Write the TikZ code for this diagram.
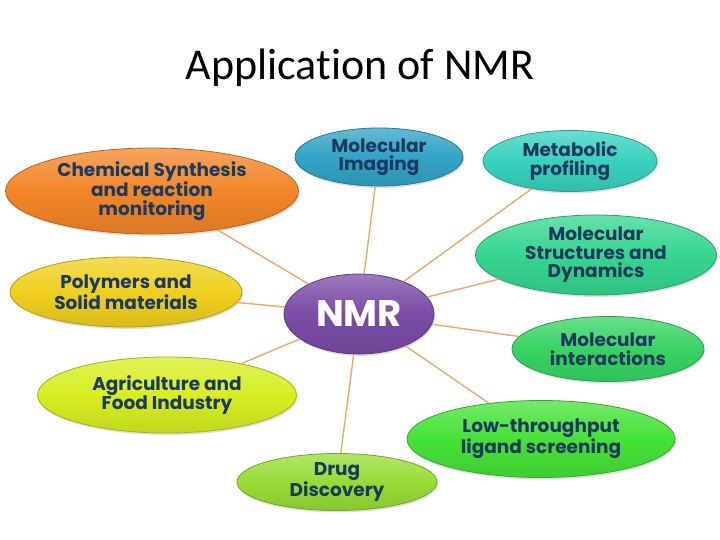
\documentclass[tikz,border=0pt]{standalone}
\usepackage{fontspec}
\setmainfont{Poppins}
\newfontfamily\titlefont[Ligatures=CommonOff]{Carlito}
\usetikzlibrary{shapes.geometric,shadows}
\definecolor{txt}{HTML}{1B3A5E}
\definecolor{conn}{HTML}{E9A96A}
\definecolor{cchem}{HTML}{F2862A}
\definecolor{cimg}{HTML}{33A3C6}
\definecolor{cmeta}{HTML}{38D2BE}
\definecolor{cstruct}{HTML}{36D690}
\definecolor{cpoly}{HTML}{F0D01E}
\definecolor{cnmr}{HTML}{7A4CA6}
\definecolor{cinter}{HTML}{38D464}
\definecolor{cagri}{HTML}{D8EE22}
\definecolor{clow}{HTML}{46E238}
\definecolor{cdrug}{HTML}{98DC36}
\tikzset{
  bub/.style={ellipse, inner sep=0pt, align=center, text=txt,
    font=\fontsize{18.5}{18.5}\selectfont\bfseries,
    top color=#1!75!white, bottom color=#1!90!black, middle color=#1,
    draw=#1!75!black, line width=0.8pt,
    drop shadow={opacity=0.25, shadow xshift=1pt, shadow yshift=-2pt}},
  link/.style={draw=conn, line width=1.4pt}
}
\begin{document}
\begin{tikzpicture}[x=1pt,y=-1pt]
\useasboundingbox (0,0) rectangle (720,540);
\node[font=\titlefont\fontsize{44}{46}\selectfont] (title) at (360,68) {Application of NMR};
\node[bub=cnmr, minimum width=150, minimum height=80, text=white,
  font=\fontsize{37}{38}\selectfont\bfseries] (nmr) at (359,314) {NMR};
\node[bub=cchem, minimum width=293, minimum height=86] (chem) at (152,191)
  {Chemical Synthesis\\and reaction\\monitoring};
\node[bub=cimg, minimum width=168, minimum height=58] (img) at (379,157)
  {Molecular\\Imaging};
\node[bub=cmeta, minimum width=174, minimum height=61] (meta) at (570,161)
  {Metabolic\\profiling};
\node[bub=cstruct, minimum width=241, minimum height=80] (struct) at (596,255)
  {Molecular\\Structures and\\Dynamics};
\node[bub=cpoly, minimum width=232, minimum height=70] (poly) at (126,292)
  {Polymers and\\Solid materials};
\node[bub=cinter, minimum width=192, minimum height=65] (inter) at (608,349)
  {Molecular\\interactions};
\node[bub=cagri, minimum width=259, minimum height=76] (agri) at (167,395)
  {Agriculture and\\Food Industry};
\node[bub=clow, minimum width=268, minimum height=77] (low) at (541,439)
  {Low-throughput\\ligand screening};
\node[bub=cdrug, minimum width=200, minimum height=57] (drug) at (337,482)
  {Drug\\Discovery};
\foreach \n in {chem,img,meta,struct,poly,inter,agri,low,drug}
  \draw[link] (nmr) -- (\n);
\end{tikzpicture}
\end{document}
